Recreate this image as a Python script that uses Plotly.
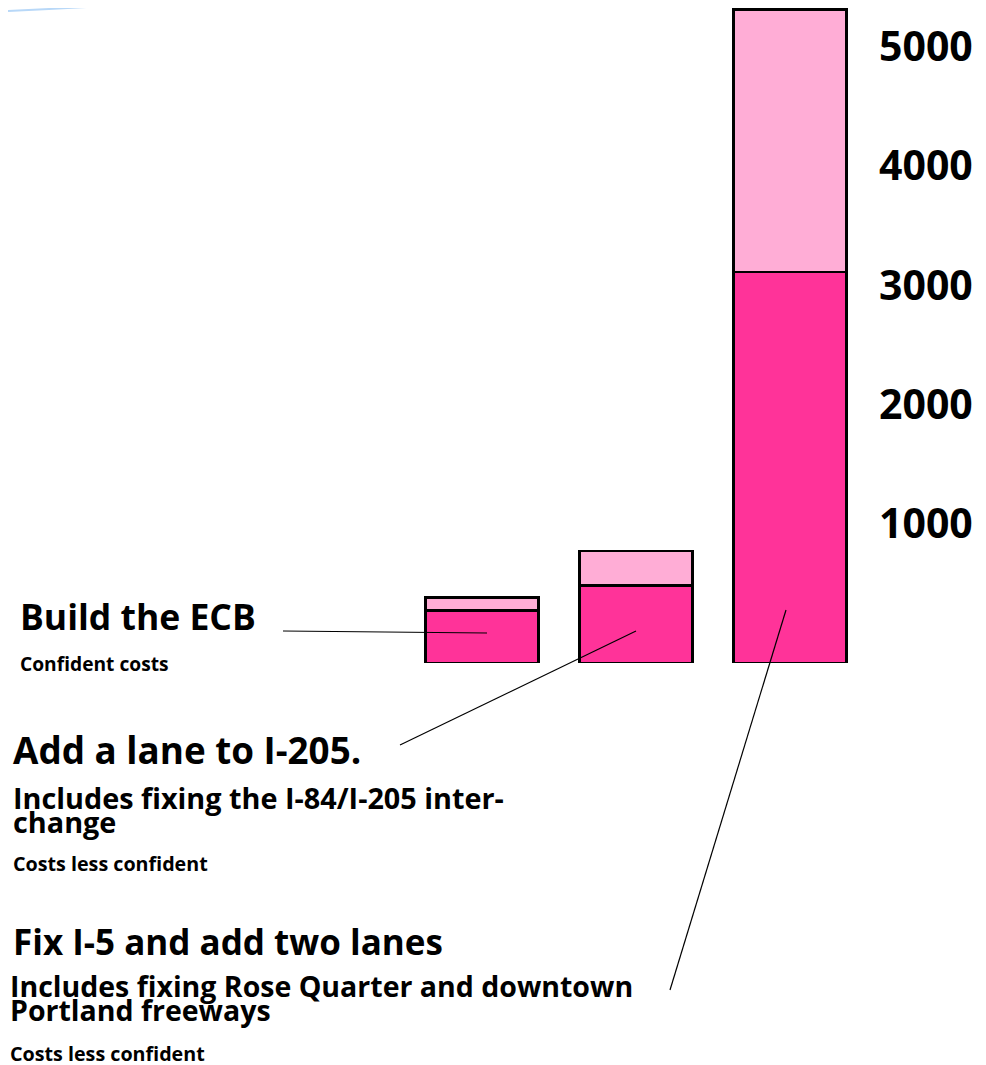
import plotly.graph_objects as go

# ---- data ----
projects = ["Build the ECB", "Add a lane to I-205", "Fix I-5 and add two lanes"]
confident_cost = [440, 650, 3280]
uncertain_cost = [110, 290, 2200]
tick_values = [1000, 2000, 3000, 4000, 5000]
tick_labels = ["1000", "2000", "3000", "4000", "5000"]

W, H = 986, 1065
OFF = 8  # page offset of the figure in the screenshot
L, R, T, B = 0, 868, 0, 655  # plot area in figure pixels
x_pos = [0, 1, 2]
Y_TOP = 5492


def px(xs):
    return (xs - OFF - L) / (R - L)


def py(ys):
    return (B - (ys - OFF)) / (B - T)


FONT = "Open Sans"
fig = go.Figure()
fig.add_trace(go.Bar(x=x_pos, y=confident_cost, width=0.735,
                     marker=dict(color="#FF3399", line=dict(color="black", width=2.5)),
                     name="Confident"))
fig.add_trace(go.Bar(x=x_pos, y=uncertain_cost, width=0.735,
                     marker=dict(color="#FFADD6", line=dict(color="black", width=2.5)),
                     name="Uncertain"))

texts = [
    ("Build the ECB", 18, 616, 35.5),
    ("Confident costs", 18, 663, 19.2),
    ("Add a lane to I-205.", 11, 750, 36.8),
    ("Includes fixing the I-84/I-205 inter-", 11, 797, 28.8),
    ("change", 11, 821, 28.8),
    ("Costs less confident", 11, 863, 19.7),
    ("Fix I-5 and add two lanes", 11, 941, 35),
    ("Includes fixing Rose Quarter and downtown", 8, 986, 28.5),
    ("Portland freeways", 8, 1010, 28.5),
    ("Costs less confident", 8, 1053, 19.7),
]
for t, xx, yy, sz in texts:
    fig.add_annotation(text=t, xref="paper", yref="paper",
                       x=px(xx), y=py(yy), xanchor="left", yanchor="middle",
                       showarrow=False,
                       font=dict(family=FONT, size=sz, color="black", weight="bold"))

leaders = [((283, 631), (487, 633)), ((400, 745), (636, 631)), ((670, 990), (786, 610))]
for (x0, y0), (x1, y1) in leaders:
    fig.add_shape(type="line", xref="paper", yref="paper",
                  x0=px(x0), y0=py(y0), x1=px(x1), y1=py(y1),
                  line=dict(color="black", width=1.2))

# decorative blue curve at top-left
fig.add_shape(type="path", xref="paper", yref="paper",
              path="M %f,%f Q %f,%f %f,%f" % (px(8), py(11), px(95), py(7), px(183), py(1)),
              line=dict(color="#B8D8F8", width=2))

fig.update_layout(
    width=W, height=H, barmode="stack", showlegend=False,
    margin=dict(l=L, r=W - R, t=T, b=H - B),
    plot_bgcolor="white", paper_bgcolor="white",
    xaxis=dict(range=[(L - 474) / 154, (R - 474) / 154], visible=False),
    yaxis=dict(range=[0, Y_TOP], side="right", tickvals=tick_values, ticktext=tick_labels,
               showgrid=False, zeroline=False, showline=False, ticks="",
               tickfont=dict(family=FONT, size=41, color="black", weight="bold"),
               ticklabelshift=-20, ticklabelstandoff=2),
)
fig.write_html("out.html")
